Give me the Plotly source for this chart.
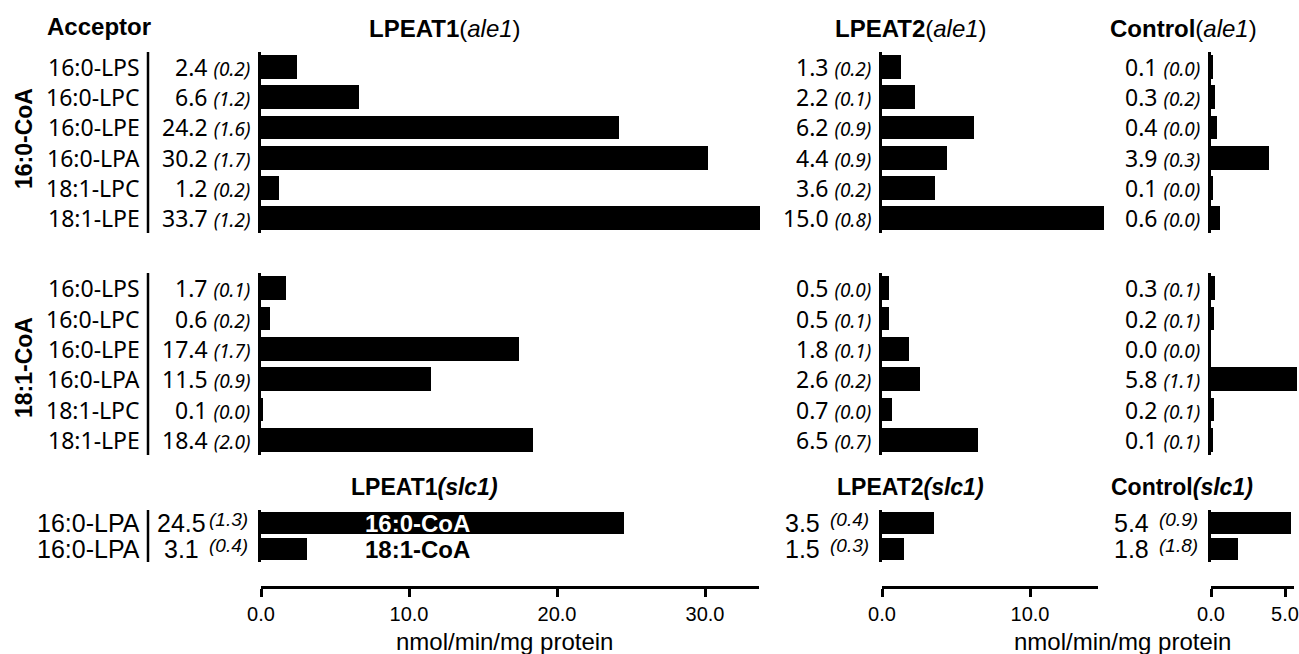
import plotly.graph_objects as go

# ---------------- data ----------------
acceptors_ale1 = ["16:0-LPS", "16:0-LPC", "16:0-LPE", "16:0-LPA", "18:1-LPC", "18:1-LPE"]
acceptors_slc1 = ["16:0-LPA", "16:0-LPA"]
donors_slc1 = ["16:0-CoA", "18:1-CoA"]
group_labels = ["16:0-CoA", "18:1-CoA"]
panel_names = ["LPEAT1", "LPEAT2", "Control"]

lpeat1_160 = [2.4, 6.6, 24.2, 30.2, 1.2, 33.7]
lpeat1_160_err = [0.2, 1.2, 1.6, 1.7, 0.2, 1.2]
lpeat2_160 = [1.3, 2.2, 6.2, 4.4, 3.6, 15.0]
lpeat2_160_err = [0.2, 0.1, 0.9, 0.9, 0.2, 0.8]
ctrl_160 = [0.1, 0.3, 0.4, 3.9, 0.1, 0.6]
ctrl_160_err = [0.0, 0.2, 0.0, 0.3, 0.0, 0.0]

lpeat1_181 = [1.7, 0.6, 17.4, 11.5, 0.1, 18.4]
lpeat1_181_err = [0.1, 0.2, 1.7, 0.9, 0.0, 2.0]
lpeat2_181 = [0.5, 0.5, 1.8, 2.6, 0.7, 6.5]
lpeat2_181_err = [0.0, 0.1, 0.1, 0.2, 0.0, 0.7]
ctrl_181 = [0.3, 0.2, 0.0, 5.8, 0.2, 0.1]
ctrl_181_err = [0.1, 0.1, 0.0, 1.1, 0.1, 0.1]

lpeat1_slc1 = [24.5, 3.1]
lpeat1_slc1_err = [1.3, 0.4]
lpeat2_slc1 = [3.5, 1.5]
lpeat2_slc1_err = [0.4, 0.3]
ctrl_slc1 = [5.4, 1.8]
ctrl_slc1_err = [0.9, 1.8]

ticks_p1 = [0, 10, 20, 30]
ticks_p2 = [0, 10]
ticks_p3 = [0, 5]
x_title = "nmol/min/mg protein"

# ---------------- layout helpers ----------------
W, H = 1299, 654
PX = 14.8  # pixels per unit, shared by all panels

def px_x(p):
    return p / W

def px_y(p):
    return 1 - p / H

col_start = [261, 882, 1211]
col_end_top = [762, 1106, 1298]
col_end_bot = [759, 1098, 1294]
row_px = [(52, 233), (273, 455), (510, 562)]
axis_y_px = 587

rows = [
    [(lpeat1_160, lpeat1_160_err), (lpeat2_160, lpeat2_160_err), (ctrl_160, ctrl_160_err)],
    [(lpeat1_181, lpeat1_181_err), (lpeat2_181, lpeat2_181_err), (ctrl_181, ctrl_181_err)],
    [(lpeat1_slc1, lpeat1_slc1_err), (lpeat2_slc1, lpeat2_slc1_err), (ctrl_slc1, ctrl_slc1_err)],
]
ticks = [ticks_p1, ticks_p2, ticks_p3]

LAB_FONT = "Noto Sans"
NARROW = "Liberation Sans Narrow, Liberation Sans"
fig = go.Figure()
layout = {}
annotations = []
shapes = []


def ann(**kw):
    kw.setdefault("showarrow", False)
    kw.setdefault("xanchor", "center")
    kw.setdefault("yanchor", "middle")
    annotations.append(kw)


for r in range(3):
    n = len(rows[r][0][0])
    for c in range(3):
        k = r * 3 + c + 1
        xa = "x" if k == 1 else f"x{k}"
        ya = "y" if k == 1 else f"y{k}"
        vals, errs = rows[r][c]
        fig.add_trace(go.Bar(
            x=vals, y=list(range(n)), orientation="h",
            marker=dict(color="black", line=dict(width=0)),
            width=0.79 if r < 2 else 0.88,
            xaxis=xa, yaxis=ya, showlegend=False, hoverinfo="x+y",
        ))
        x0 = col_start[c]
        x1 = col_end_top[c] if r < 2 else col_end_bot[c]
        xr = (x1 - x0) / PX
        xkey = "xaxis" if k == 1 else f"xaxis{k}"
        ykey = "yaxis" if k == 1 else f"yaxis{k}"
        if r < 2:
            layout[xkey] = dict(domain=[px_x(x0), px_x(x1)], range=[0, xr], visible=False,
                                anchor=ya, automargin=False, fixedrange=True)
        else:
            layout[xkey] = dict(domain=[px_x(x0), px_x(x1)], range=[0, xr], anchor="free",
                                position=px_y(axis_y_px), showline=True, linewidth=3,
                                linecolor="black", ticks="outside", ticklen=8, tickwidth=2.5,
                                tickcolor="black", tickvals=ticks[c], tickformat=".1f",
                                showgrid=False, zeroline=False, automargin=False,
                                tickfont=dict(family="Liberation Sans", size=20, color="black"))
        ytop, ybot = row_px[r]
        layout[ykey] = dict(domain=[px_y(ybot), px_y(ytop)], range=[n - 0.5, -0.5],
                            anchor=xa, showline=True, linewidth=2.5, linecolor="black",
                            showticklabels=False, ticks="", showgrid=False, zeroline=False,
                            automargin=False)
        for i, (v, e) in enumerate(zip(vals, errs)):
            if r < 2:
                ann(xref=xa, yref=ya, x=0, y=i, xshift=-9, xanchor="right",
                    text=f"{v:.1f} <i><span style='font-size:19px'>({e:.1f})</span></i>",
                    font=dict(family=LAB_FONT, size=23, color="black"))
            else:
                ann(xref=xa, yref=ya, x=0, y=i, xshift=-80,
                    text=f"{v:.1f}", font=dict(family=NARROW, size=25, color="black"))
                ann(xref=xa, yref=ya, x=0, y=i, xshift=-11, yshift=4, xanchor="right",
                    text=f"<i>({e:.1f})</i>", font=dict(family=NARROW, size=19, color="black"))
    ya_first = "y" if r == 0 else f"y{r * 3 + 1}"
    labels = acceptors_ale1 if r < 2 else acceptors_slc1
    for i, lab in enumerate(labels):
        ann(xref="paper", yref=ya_first, x=px_x(142), y=i, xanchor="right", text=lab,
            font=dict(family=LAB_FONT if r < 2 else NARROW, size=23 if r < 2 else 25,
                      color="black"))
    shapes.append(dict(type="line", xref="paper", yref=f"{ya_first} domain",
                       x0=px_x(148), x1=px_x(148), y0=0, y1=1,
                       line=dict(color="black", width=2.5)))

for g, ycen in zip(group_labels, [139, 368]):
    ann(xref="paper", yref="paper", x=px_x(24), y=px_y(ycen), textangle=-90,
        text=f"<b>{g}</b>", font=dict(family="Liberation Sans", size=23, color="black"))

ann(xref="paper", yref="paper", x=px_x(45), y=px_y(27), xanchor="left",
    text="<b>Acceptor</b>", font=dict(family="Liberation Sans", size=24, color="black"))

for name, xc in zip(panel_names, [445, 911, 1183]):
    ann(xref="paper", yref="paper", x=px_x(xc), y=px_y(28),
        text=f"<b>{name}</b>(<i>ale1</i>)",
        font=dict(family="Liberation Sans", size=24, color="black"))
for name, xc in zip(panel_names, [425, 910, 1182]):
    ann(xref="paper", yref="paper", x=px_x(xc), y=px_y(487),
        text=f"<b>{name}<i>(slc1)</i></b>",
        font=dict(family="Liberation Sans", size=23, color="black"))

for i, (d, col) in enumerate(zip(donors_slc1, ["white", "black"])):
    ann(xref="paper", yref="y7", x=px_x(418), y=i, text=f"<b>{d}</b>",
        font=dict(family="Liberation Sans", size=24, color=col))

for xc in [505, 1122]:
    ann(xref="paper", yref="paper", x=px_x(xc), y=px_y(641), text=x_title,
        font=dict(family="Liberation Sans", size=24, color="black"))

fig.update_layout(
    template="none",
    width=W, height=H, margin=dict(l=0, r=0, t=0, b=0, autoexpand=False),
    paper_bgcolor="white", plot_bgcolor="white", bargap=0, showlegend=False,
    annotations=annotations, shapes=shapes, **layout,
)
fig.write_html("out.html", config={"displayModeBar": False},
               post_script="document.body.style.margin='0px';")
